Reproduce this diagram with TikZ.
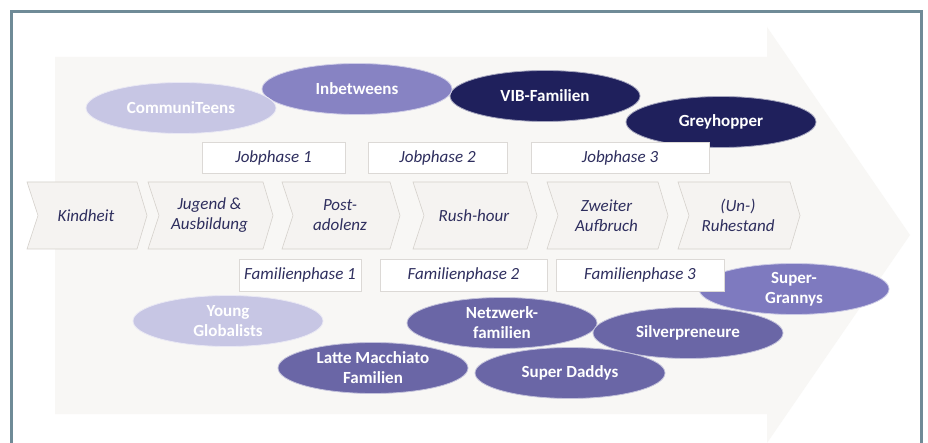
\documentclass[tikz,border=0pt]{standalone}
\usepackage{fontspec}
\setmainfont{Carlito}
\usetikzlibrary{shapes.geometric}
\definecolor{frameC}{HTML}{6F8B97}
\definecolor{bgA}{HTML}{F8F7F5}
\definecolor{chevF}{HTML}{F5F3F1}
\definecolor{chevD}{HTML}{D5D1CC}
\definecolor{boxD}{HTML}{DCD9D6}
\definecolor{txt}{HTML}{2E2E5E}
\definecolor{lav}{HTML}{C7C6E4}
\definecolor{midA}{HTML}{8783C3}
\definecolor{midB}{HTML}{7E7ABF}
\definecolor{dk}{HTML}{6A66A6}
\definecolor{navy}{HTML}{1F205C}
\newcommand{\chevbox}[4]{%
  \draw[chevstyle] (#1,182) -- (#2,182) -- ({#2+10},215.5) -- (#2,249) -- (#1,249) -- ({#1+11},215.5) -- cycle;
  \node[chevtext] (#3) at ({(#1+#2)/2+4},215.5) {#4};}
\begin{document}
\begin{tikzpicture}[x=1pt,y={(0pt,-1pt)},
  chevstyle/.style={fill=chevF,draw=chevD,line width=0.6pt},
  chevtext/.style={text=txt,font=\fontsize{17}{20}\selectfont\itshape,align=center,inner sep=0pt},
  phasebox/.style={fill=white,draw=boxD,line width=0.6pt,minimum height=31pt,inner sep=0pt,text=txt,font=\fontsize{17}{20}\selectfont\itshape},
  grp/.style={ellipse,minimum width=190pt,minimum height=51pt,inner sep=0pt,text=white,font=\fontsize{17}{20}\selectfont\bfseries,align=center,draw=white!60!#1,line width=0.8pt,fill=#1}]
\useasboundingbox (0,0) rectangle (928,443);
\fill[white] (0,0) rectangle (928,443);
% background arrow
\fill[bgA] (55,57) -- (767,57) -- (767,27) -- (910,235) -- (767,443) -- (767,414) -- (55,414) -- cycle;
% frame
\draw[frameC,line width=3pt] (11,470) -- (11,12) -- (921,12) -- (921,470);
% chevrons
\chevbox{27}{137}{c1}{Kindheit}
\chevbox{148}{263}{c2}{Jugend \&\\Ausbildung}
\chevbox{282}{390}{c3}{Post-\\adolenz}
\chevbox{413}{527}{c4}{Rush-hour}
\chevbox{547}{658}{c5}{Zweiter\\Aufbruch}
\chevbox{678}{790}{c6}{(Un-)\\Ruhestand}
% ellipses top
\node[grp=navy] (vib) at (545,96) {VIB-Familien};
\node[grp=midA] (inb) at (357,89) {Inbetweens};
\node[grp=lav] (com) at (181,108) {CommuniTeens};
\node[grp=navy] (grey) at (721,122) {Greyhopper};
% ellipses bottom
\node[grp=lav] (yg) at (228,321) {Young\\Globalists};
\node[grp=midB] (sg) at (794,289) {Super-\\Grannys};
\node[grp=dk] (nw) at (502,323) {Netzwerk-\\familien};
\node[grp=dk] (lm) at (373,368) {Latte Macchiato\\Familien};
\node[grp=dk] (sp) at (688,333) {Silverpreneure};
\node[grp=dk] (sd) at (570,373) {Super Daddys};
% phase boxes
\node[phasebox,minimum width=143pt] (j1) at (273.5,157.5) {Jobphase 1};
\node[phasebox,minimum width=139pt] (j2) at (437.5,157.5) {Jobphase 2};
\node[phasebox,minimum width=178pt] (j3) at (620,157.5) {Jobphase 3};
\node[phasebox,minimum width=122pt,minimum height=32pt] (f1) at (300,275) {Familienphase 1};
\node[phasebox,minimum width=167pt,minimum height=32pt] (f2) at (463.5,275) {Familienphase 2};
\node[phasebox,minimum width=168pt,minimum height=32pt] (f3) at (640,275) {Familienphase 3};
\end{tikzpicture}
\end{document}
